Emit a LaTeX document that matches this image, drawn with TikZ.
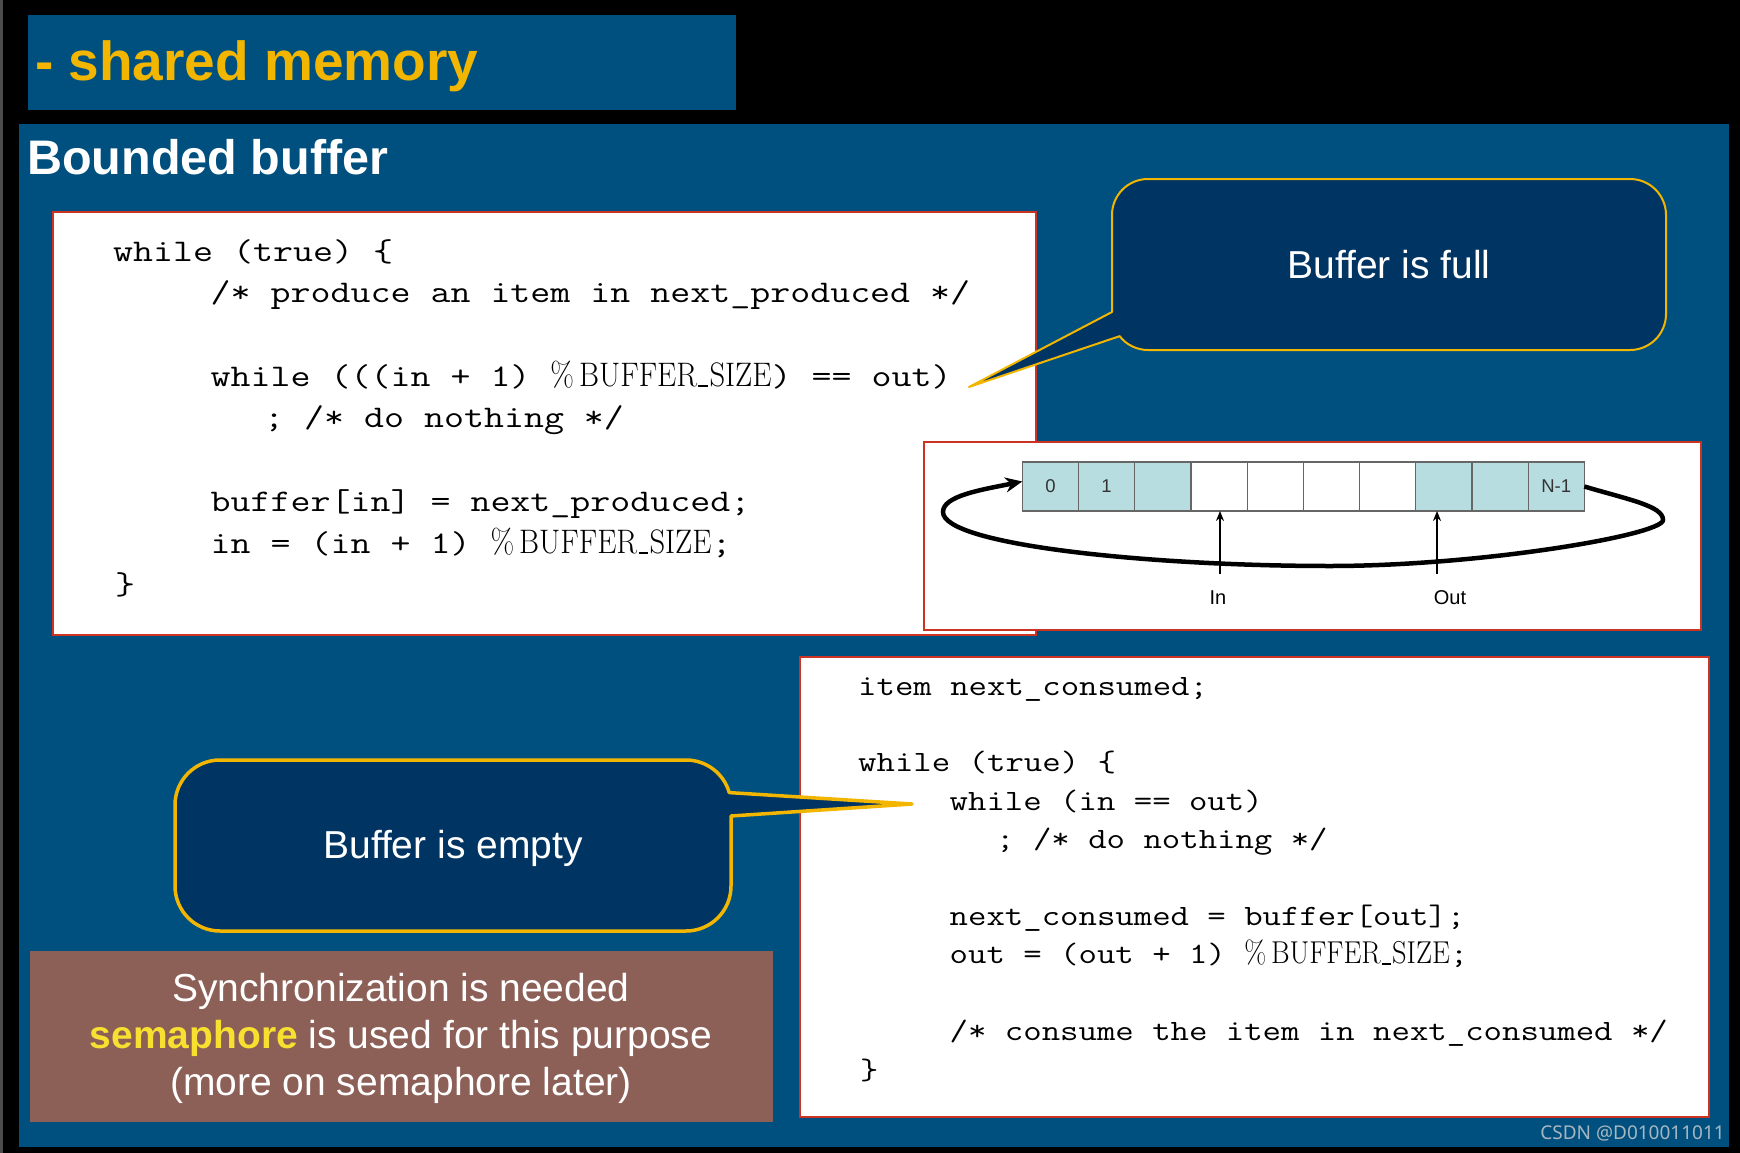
\documentclass[tikz,border=0pt]{standalone}
\usepackage{fontspec}
\usepackage{graphicx}
\usepackage{tikz}
\usetikzlibrary{arrows.meta}
\newfontfamily\arialfont{Liberation Sans}
\newfontfamily\notofont{Noto Sans}
\definecolor{slideblue}{HTML}{00507F}
\definecolor{navy}{HTML}{003462}
\definecolor{gold}{HTML}{F2B600}
\definecolor{brick}{HTML}{CC3322}
\definecolor{mocha}{HTML}{8C5F57}
\definecolor{lemon}{HTML}{F8E030}
\definecolor{slotfill}{HTML}{B8DDE1}
\definecolor{stamp}{HTML}{A8B6C0}
\newcommand\codex{1.2}
\newcommand\prodfont{\ttfamily\fontsize{31.5}{35}\selectfont\renewcommand\codex{1.232}}
\newcommand\consfont{\ttfamily\fontsize{29.5}{33}\selectfont\renewcommand\codex{1.212}}
\newcommand\cd[1]{\scalebox{\codex}[1]{#1}}
\newcommand\lowbar{\kern0.04em\rule[-0.03em]{0.32em}{0.045em}\kern0.04em}
\newcommand\bsz[1]{{\rmfamily\fontsize{#1}{#1}\selectfont\scalebox{0.9}[1]{\%\,BUFFER\lowbar SIZE}}}

\begin{document}
\begin{tikzpicture}[x=1pt,y=-1pt,
    codebox/.style={fill=white, draw=brick, line width=2.5pt},
    prodline/.style={anchor=base west, inner sep=0pt, font=\prodfont},
    consline/.style={anchor=base west, inner sep=0pt, font=\consfont},
    bubble/.style={fill=navy, draw=gold, line join=round},
    bubbletxt/.style={anchor=base, inner sep=0pt, text=white, font=\arialfont\fontsize{39}{44}\selectfont},
    synctxt/.style={anchor=base, inner sep=0pt, text=white, font=\arialfont\fontsize{39}{44}\selectfont},
    slot/.style={draw=gray!80!black, line width=1.2pt, minimum width=56.2pt, minimum height=49pt,
      inner sep=0pt, outer sep=0pt, text=black!80, font=\arialfont\fontsize{18.5}{20}\selectfont},
    ptr/.style={line width=2pt, -{Stealth[length=10pt,width=8pt]}},
    ptrlbl/.style={anchor=base, inner sep=0pt, font=\arialfont\fontsize{20}{22}\selectfont},
    wraparrow/.style={line width=4.5pt, -{Stealth[length=17pt,width=15pt]}}]
    \useasboundingbox (0,0) rectangle (1740,1153);
    \fill[black] (0,0) rectangle (1740,1153);  %background
    \fill[black!70] (0,0) rectangle (2.5,1153);  %left strip
    % title bar
    \fill[slideblue] (28,15) rectangle (736,110);
    \node[anchor=base west, inner sep=0pt, text=gold, font=\arialfont\bfseries\fontsize{55}{60}\selectfont]
      (title) at (35,81) {- shared memory};
    % slide panel
    \fill[slideblue] (19,124) rectangle (1729,1147);
    \node[anchor=base west, inner sep=0pt, text=white, font=\arialfont\bfseries\fontsize{48.5}{54}\selectfont]
      (head) at (27,175) {Bounded buffer};

    % producer
    \draw[codebox] (53,212) rectangle (1036,635);
    \node[prodline] (p0) at (113,261) {\cd{while (true) \{}};
    \node[prodline] (p1) at (210.5,302.7) {\cd{/* produce an item in next\_produced */}};
    \node[prodline] (p3) at (210.5,386) {\cd{while (((in + 1) }\bsz{34}\cd{) == out)}};
    \node[prodline] (p4) at (264,427.8) {\cd{; /* do nothing */}};
    \node[prodline] (p6) at (210.5,511) {\cd{buffer[in] = next\_produced;}};
    \node[prodline] (p7) at (210.5,553) {\cd{in = (in + 1) }\bsz{34}\cd{;}};
    \node[prodline] (p8) at (115,594.6) {\cd{\}}};

    % circular buffer figure
    \draw[fill=white, draw=brick, line width=2pt] (924,442) rectangle (1701,630);
    \foreach \i/\shade/\lab in {0/slotfill/0, 1/slotfill/1, 2/slotfill/, 3/white/, 4/white/,
      5/white/, 6/white/, 7/slotfill/, 8/slotfill/, 9/slotfill/N-1}
    {
      \pgfmathsetmacro\cx{1050.4 + 56.2*\i}
      \node[slot, fill=\shade] (c\i) at (\cx,486.5) {\lab};
    };
    \draw[wraparrow] (c9.east) .. controls (1630,500) and (1663,506) .. (1663,520)
      .. controls (1663,535) and (1480,566) .. (1330,566)
      .. controls (1150,566) and (943,545) .. (943,512)
      .. controls (943,496) and (980,490) .. ([yshift=5pt]c0.west);
    \coordinate (intail) at (1220,574);
    \coordinate (outtail) at (1437,574);
    \draw[ptr] (intail) -- (intail |- c3.south);
    \draw[ptr] (outtail) -- (outtail |- c7.south);
    \node[ptrlbl] (inlbl) at (1218,604) {In};
    \node[ptrlbl] (outlbl) at (1450,604) {Out};

    % consumer
    \draw[codebox, line width=2pt] (800,657) rectangle (1709,1117);
    \node[consline] (q0) at (858,695) {\cd{item next\_consumed;}};
    \node[consline] (q2) at (858,771.8) {\cd{while (true) \{}};
    \node[consline] (q3) at (949.5,810.2) {\cd{while (in == out)}};
    \node[consline] (q4) at (996,848.6) {\cd{; /* do nothing */}};
    \node[consline] (q6) at (949.5,925.4) {\cd{next\_consumed = buffer[out];}};
    \node[consline] (q7) at (949.5,963.8) {\cd{out = (out + 1) }\bsz{31.6}\cd{;}};
    \node[consline] (q9) at (949.5,1040.6) {\cd{/* consume the item in next\_consumed */}};
    \node[consline] (q10) at (860,1079) {\cd{\}}};

    % note box
    \fill[mocha] (30,951) rectangle (773,1122);
    \node[synctxt] (sync1) at (401,1001) {Synchronization is needed};
    \node[synctxt] (sync2) at (401,1048) {{\bfseries\color{lemon}semaphore} is used for this purpose};
    \node[synctxt] (sync3) at (401,1095) {(more on semaphore later)};

    % callouts
    \coordinate (fulltip) at (969,387);
    \draw[bubble, line width=2pt] (1112,312) -- (1112,215) arc[start angle=180, end angle=270, radius=36]
      -- (1630,179) arc[start angle=270, end angle=360, radius=36]
      -- (1666,314) arc[start angle=0, end angle=90, radius=36]
      -- (1148,350) arc[start angle=90, end angle=142, radius=36]
      -- (fulltip) -- cycle;
    \node[bubbletxt] (full) at (1389,278) {Buffer is full};
    \coordinate (emptytip) at (912,804);
    \draw[bubble, line width=3.5pt] (731,816) -- (731,886) arc[start angle=0, end angle=90, radius=45]
      -- (220,931) arc[start angle=90, end angle=180, radius=45]
      -- (175,805) arc[start angle=180, end angle=270, radius=45]
      -- (686,760) arc[start angle=270, end angle=344, radius=45]
      -- (emptytip) -- cycle;
    \node[bubbletxt] (empty) at (453,858) {Buffer is empty};

    \node[anchor=base east, inner sep=0pt, text=stamp, font=\notofont\fontsize{19}{21}\selectfont]
      (stamp) at (1725,1139) {CSDN @D010011011};
\end{tikzpicture}
\end{document}
